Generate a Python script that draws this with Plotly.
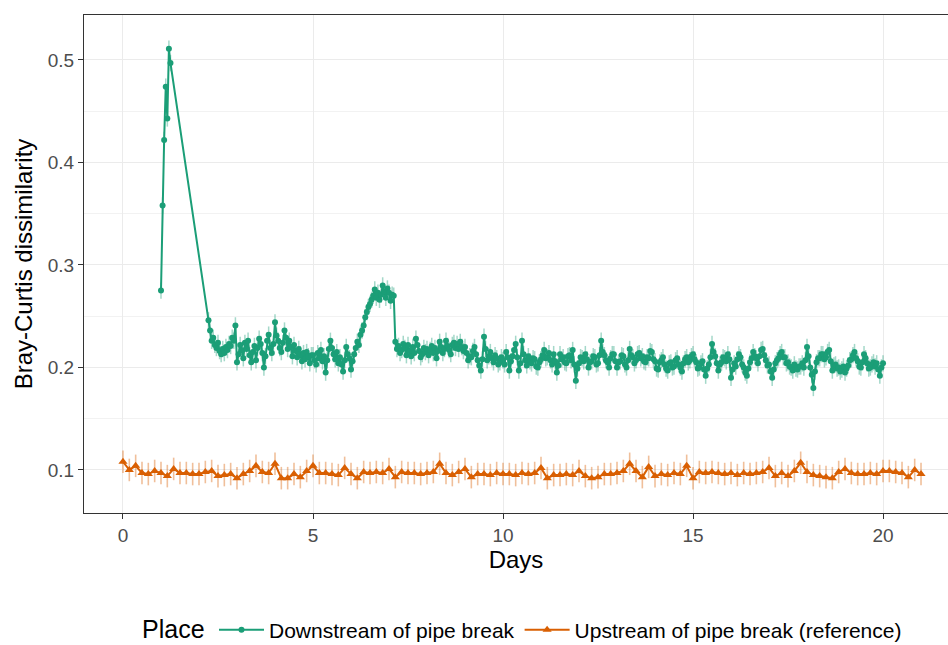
import plotly.graph_objects as go

# ---------------- data ----------------
# Downstream of pipe break: early burst, then hourly samples from day 2.25
down_early_days = [1.0, 1.042, 1.083, 1.125, 1.167, 1.208, 1.25]
down_early_vals = [0.275, 0.358, 0.422, 0.474, 0.443, 0.511, 0.497]

down_start_day = 2.25
down_step_day = 1 / 24
down_vals = [
    0.246, 0.236, 0.226, 0.229, 0.222, 0.219, 0.224, 0.216, 0.213, 0.218, 0.214, 0.220, 0.217, 0.223, 0.221, 0.229, 0.226, 0.241,
    0.205, 0.213, 0.222, 0.217, 0.209, 0.224, 0.218, 0.226, 0.212, 0.205, 0.215, 0.221, 0.207, 0.219, 0.228, 0.223, 0.214, 0.200, 0.211, 0.226, 0.232, 0.219, 0.214, 0.223,
    0.244, 0.231, 0.226, 0.219, 0.215, 0.224, 0.236, 0.229, 0.218, 0.226, 0.220, 0.211, 0.222, 0.216, 0.210, 0.218, 0.213, 0.206, 0.214, 0.208, 0.215, 0.211, 0.204, 0.212,
    0.212, 0.207, 0.203, 0.214, 0.209, 0.217, 0.206, 0.211, 0.195, 0.207, 0.218, 0.226, 0.219, 0.213, 0.208, 0.215, 0.204, 0.210, 0.203, 0.196, 0.207, 0.220, 0.213, 0.209,
    0.198, 0.206, 0.213, 0.219, 0.225, 0.222, 0.232, 0.236, 0.241, 0.249, 0.254, 0.259, 0.262, 0.266, 0.270, 0.276, 0.268, 0.273, 0.266, 0.271, 0.280, 0.274, 0.268, 0.277,
    0.273, 0.265, 0.271, 0.270, 0.225, 0.218, 0.221, 0.214, 0.217, 0.223, 0.219, 0.212, 0.222, 0.216, 0.211, 0.220, 0.214, 0.228, 0.222, 0.216, 0.210, 0.213, 0.219, 0.215,
    0.218, 0.212, 0.217, 0.221, 0.214, 0.219, 0.209, 0.216, 0.225, 0.220, 0.214, 0.218, 0.226, 0.221, 0.217, 0.213, 0.222, 0.224, 0.219, 0.223, 0.218, 0.225, 0.220, 0.216,
    0.220, 0.214, 0.207, 0.211, 0.210, 0.216, 0.220, 0.213, 0.207, 0.202, 0.197, 0.208, 0.230, 0.218, 0.207, 0.211, 0.215, 0.209, 0.205, 0.212, 0.209, 0.203, 0.205, 0.210,
    0.207, 0.203, 0.215, 0.210, 0.197, 0.206, 0.211, 0.217, 0.223, 0.210, 0.197, 0.204, 0.226, 0.213, 0.207, 0.202, 0.211, 0.206, 0.204, 0.209, 0.208, 0.201, 0.200, 0.205,
    0.208, 0.212, 0.217, 0.209, 0.210, 0.214, 0.207, 0.203, 0.213, 0.206, 0.195, 0.202, 0.213, 0.208, 0.210, 0.205, 0.204, 0.211, 0.212, 0.207, 0.217, 0.203, 0.187, 0.199,
    0.204, 0.210, 0.209, 0.206, 0.213, 0.208, 0.200, 0.205, 0.206, 0.211, 0.210, 0.203, 0.204, 0.212, 0.226, 0.215, 0.212, 0.207, 0.205, 0.200, 0.209, 0.213, 0.213, 0.206,
    0.200, 0.205, 0.206, 0.212, 0.211, 0.203, 0.200, 0.207, 0.218, 0.212, 0.210, 0.204, 0.207, 0.213, 0.214, 0.209, 0.211, 0.206, 0.205, 0.210, 0.209, 0.216, 0.215, 0.208,
    0.206, 0.199, 0.198, 0.205, 0.207, 0.210, 0.203, 0.199, 0.197, 0.204, 0.205, 0.200, 0.201, 0.207, 0.209, 0.203, 0.200, 0.196, 0.204, 0.208, 0.210, 0.205, 0.207, 0.211,
    0.213, 0.208, 0.205, 0.199, 0.200, 0.204, 0.206, 0.198, 0.192, 0.199, 0.203, 0.210, 0.223, 0.215, 0.211, 0.204, 0.197, 0.203, 0.205, 0.210, 0.209, 0.206, 0.213, 0.208,
    0.190, 0.198, 0.204, 0.201, 0.208, 0.213, 0.210, 0.203, 0.200, 0.195, 0.192, 0.199, 0.205, 0.209, 0.215, 0.211, 0.209, 0.204, 0.211, 0.217, 0.218, 0.212, 0.207, 0.202,
    0.203, 0.196, 0.190, 0.198, 0.204, 0.207, 0.209, 0.213, 0.215, 0.210, 0.210, 0.204, 0.205, 0.201, 0.200, 0.197, 0.203, 0.199, 0.198, 0.201, 0.201, 0.204, 0.200, 0.207,
    0.220, 0.211, 0.200, 0.193, 0.180, 0.196, 0.205, 0.209, 0.209, 0.213, 0.213, 0.208, 0.210, 0.215, 0.217, 0.206, 0.197, 0.202, 0.203, 0.199, 0.200, 0.196, 0.198, 0.201,
    0.195, 0.199, 0.202, 0.207, 0.208, 0.212, 0.215, 0.209, 0.206, 0.201, 0.200, 0.205, 0.213, 0.209, 0.204, 0.199, 0.200, 0.203, 0.205, 0.201, 0.204, 0.198, 0.192, 0.200,
    0.204,
]
down_err = 0.008

# Upstream of pipe break (reference): 4-hourly samples from day 0
up_start_day = 0.0
up_step_day = 1 / 6
up_vals = [
    0.108, 0.100, 0.104, 0.097, 0.096, 0.099,
    0.097, 0.094, 0.101, 0.097, 0.097, 0.096,
    0.096, 0.098, 0.099, 0.094, 0.095, 0.096,
    0.092, 0.096, 0.099, 0.104, 0.098, 0.097,
    0.106, 0.092, 0.092, 0.096, 0.093, 0.099,
    0.104, 0.097, 0.097, 0.096, 0.095, 0.102,
    0.096, 0.092, 0.098, 0.097, 0.098, 0.097,
    0.101, 0.093, 0.098, 0.097, 0.097, 0.096,
    0.097, 0.098, 0.106, 0.097, 0.095, 0.098,
    0.101, 0.093, 0.096, 0.096, 0.095, 0.097,
    0.096, 0.096, 0.095, 0.097, 0.096, 0.097,
    0.102, 0.092, 0.095, 0.095, 0.096, 0.095,
    0.099, 0.094, 0.092, 0.093, 0.096, 0.096,
    0.097, 0.099, 0.106, 0.099, 0.093, 0.103,
    0.094, 0.096, 0.095, 0.097, 0.096, 0.104,
    0.092, 0.098, 0.097, 0.098, 0.097, 0.096,
    0.097, 0.095, 0.097, 0.096, 0.097, 0.098,
    0.102, 0.094, 0.097, 0.094, 0.099, 0.107,
    0.098, 0.095, 0.094, 0.093, 0.092, 0.098,
    0.101, 0.097, 0.096, 0.096, 0.097, 0.096,
    0.099, 0.099, 0.098, 0.097, 0.093, 0.100, 0.096,
]
up_err = 0.011

series_names = ["Downstream of pipe break", "Upstream of pipe break (reference)"]
legend_title = "Place"
x_ticks = [0, 5, 10, 15, 20]
y_ticks = [0.1, 0.2, 0.3, 0.4, 0.5]

# ---------------- build ----------------
down_days = down_early_days + [down_start_day + i * down_step_day for i in range(len(down_vals))]
down_all = down_early_vals + down_vals
up_days = [up_start_day + i * up_step_day for i in range(len(up_vals))]

GREEN = "#1B9E77"
ORANGE = "#D95F02"
FONT = "Liberation Sans, Arial, Helvetica, sans-serif"
W, H = 948, 645

fig = go.Figure()
fig.add_trace(go.Scatter(
    x=down_days, y=down_all, name=series_names[0], mode="lines+markers",
    line=dict(color=GREEN, width=2),
    marker=dict(color=GREEN, size=6, symbol="circle"),
    error_y=dict(type="constant", value=down_err, color="rgba(27,158,119,0.4)",
                 thickness=1.5, width=0),
))
fig.add_trace(go.Scatter(
    x=up_days, y=up_vals, name=series_names[1], mode="lines+markers",
    line=dict(color=ORANGE, width=2),
    marker=dict(color=ORANGE, size=8, symbol="triangle-up"),
    error_y=dict(type="constant", value=up_err, color="rgba(217,95,2,0.4)",
                 thickness=1.6, width=0),
))

fig.update_layout(
    width=W, height=H,
    margin=dict(l=84, r=0, t=15, b=132),
    paper_bgcolor="white", plot_bgcolor="white",
    font=dict(family=FONT, color="black"),
    showlegend=True,
    legend=dict(
        orientation="h", xref="container", yref="container",
        x=214 / W, xanchor="left", y=1 - 630 / H, yanchor="middle",
        font=dict(size=21, color="black"),
        itemwidth=45,
    ),
    annotations=[dict(
        text=legend_title, xref="paper", yref="paper",
        x=(140 - 84) / 864, xanchor="left",
        y=(645 - 132 - 629) / 498, yanchor="middle",
        showarrow=False, font=dict(size=25, color="black"),
    )],
)
fig.update_xaxes(
    range=[-1.026, 21.71], tickvals=x_ticks, ticktext=[str(t) for t in x_ticks],
    showgrid=True, gridcolor="#EBEBEB", gridwidth=1.2, zeroline=False,
    showline=True, linecolor="#333333", linewidth=1.2, mirror=True,
    ticks="outside", ticklen=5, tickcolor="#333333", tickwidth=1.2,
    tickfont=dict(size=19, color="#4D4D4D"),
    title=dict(text="Days", font=dict(size=24, color="black"), standoff=6),
    automargin=False,
)
fig.update_yaxes(
    range=[0.058, 0.5439], tickvals=y_ticks, ticktext=[f"{t:.1f}" for t in y_ticks],
    showgrid=True, gridcolor="#EBEBEB", gridwidth=1.2, zeroline=False,
    minor=dict(tickvals=[0.15, 0.25, 0.35, 0.45], showgrid=True, gridcolor="#F2F2F2", gridwidth=0.8),
    showline=True, linecolor="#333333", linewidth=1.2, mirror=False,
    ticks="outside", ticklen=5, tickcolor="#333333", tickwidth=1.2,
    tickfont=dict(size=19, color="#4D4D4D"),
    title=dict(text="Bray-Curtis dissimilarity", font=dict(size=24, color="black"), standoff=8),
    automargin=False,
)

fig.write_html(
    "out.html",
    config={"displayModeBar": False},
    post_script="document.body.style.margin='0';document.body.style.overflow='hidden';",
)
